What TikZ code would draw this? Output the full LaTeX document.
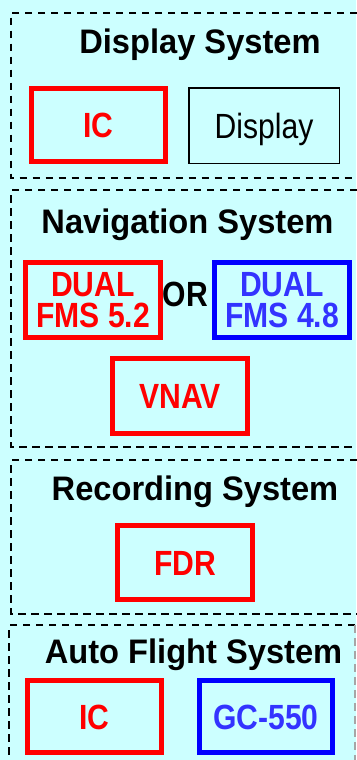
\documentclass[tikz,border=0pt]{standalone}
\usepackage{fontspec}
\setmainfont{Liberation Sans}
\newfontfamily\lblfont[FakeStretch=0.86]{Liberation Sans}
\newfontfamily\ttlfont[FakeStretch=0.96]{Liberation Sans}
\definecolor{bgcyan}{HTML}{CCFFFF}
\definecolor{boxred}{HTML}{FF0000}
\definecolor{boxblue}{HTML}{0000FF}
\definecolor{txtblue}{HTML}{3333FF}
\tikzset{
  group/.style={draw=black, line width=2pt, dash pattern=on 7.5pt off 5.5pt},
  title/.style={anchor=base, inner sep=0pt, font=\ttlfont\bfseries\fontsize{34}{34}\selectfont},
  unit/.style={draw, rectangle, minimum width=135pt, minimum height=75pt, inner sep=0pt,
    text height=25pt, text depth=0pt, font=\lblfont\bfseries\fontsize{35}{31}\selectfont},
  redunit/.style={unit, draw=boxred, text=boxred, line width=5pt},
  blueunit/.style={unit, draw=boxblue, text=txtblue, line width=5pt},
  plainunit/.style={unit, draw=black, line width=1.5pt, font=\lblfont\fontsize{35}{31}\selectfont},
  dualunit/.style={align=center, text height=, text depth=}
}
\begin{document}
\begin{tikzpicture}[x=1pt, y=-1pt]
\fill[bgcyan] (0,0) rectangle (356,760);
\useasboundingbox (0,0) rectangle (356,760);
% group frames
\draw[group] (370,12.7) -- (11,12.7) -- (11,178) -- (370,178);
\draw[group] (370,190) -- (11,190) -- (11,447) -- (370,447);
\draw[group] (370,460) -- (11,460) -- (11,614) -- (370,614);
\draw[group] (355,625) -- (9,625) -- (9,780);
\draw[group, draw=gray!70] (355,625) -- (355,780);
% titles
\node[title] (t1) at (200,53) {Display System};
\node[title] (t2) at (187.5,233) {Navigation System};
\node[title] (t3) at (195,500.7) {Recording System};
\node[title] (t4) at (193.5,663) {Auto Flight System};
% display system
\node[redunit, minimum width=134pt, minimum height=73pt] (ic1) at (98.5,125) {IC};
\node[plainunit, minimum width=150.5pt, minimum height=75.5pt] (disp) at (264,125.5) {Display};
% navigation system
\node[redunit, dualunit] (fms52) at (93,300) {DUAL\\FMS 5.2};
\node[blueunit, dualunit] (fms48) at (282,300) {DUAL\\FMS 4.8};
\node[anchor=base, inner sep=0pt, font=\lblfont\bfseries\fontsize{35}{31}\selectfont] (or) at (185.5,306.7) {OR};
\node[redunit] (vnav) at (180,396) {VNAV};
% recording system
\node[redunit, minimum height=74pt] (fdr) at (185,562.5) {FDR};
% auto flight system
\node[redunit, minimum width=134pt, minimum height=72pt] (ic2) at (94.5,716.5) {IC};
\node[blueunit, minimum width=133pt, minimum height=72pt] (gc) at (266,716.5) {GC-550};
\end{tikzpicture}
\end{document}
